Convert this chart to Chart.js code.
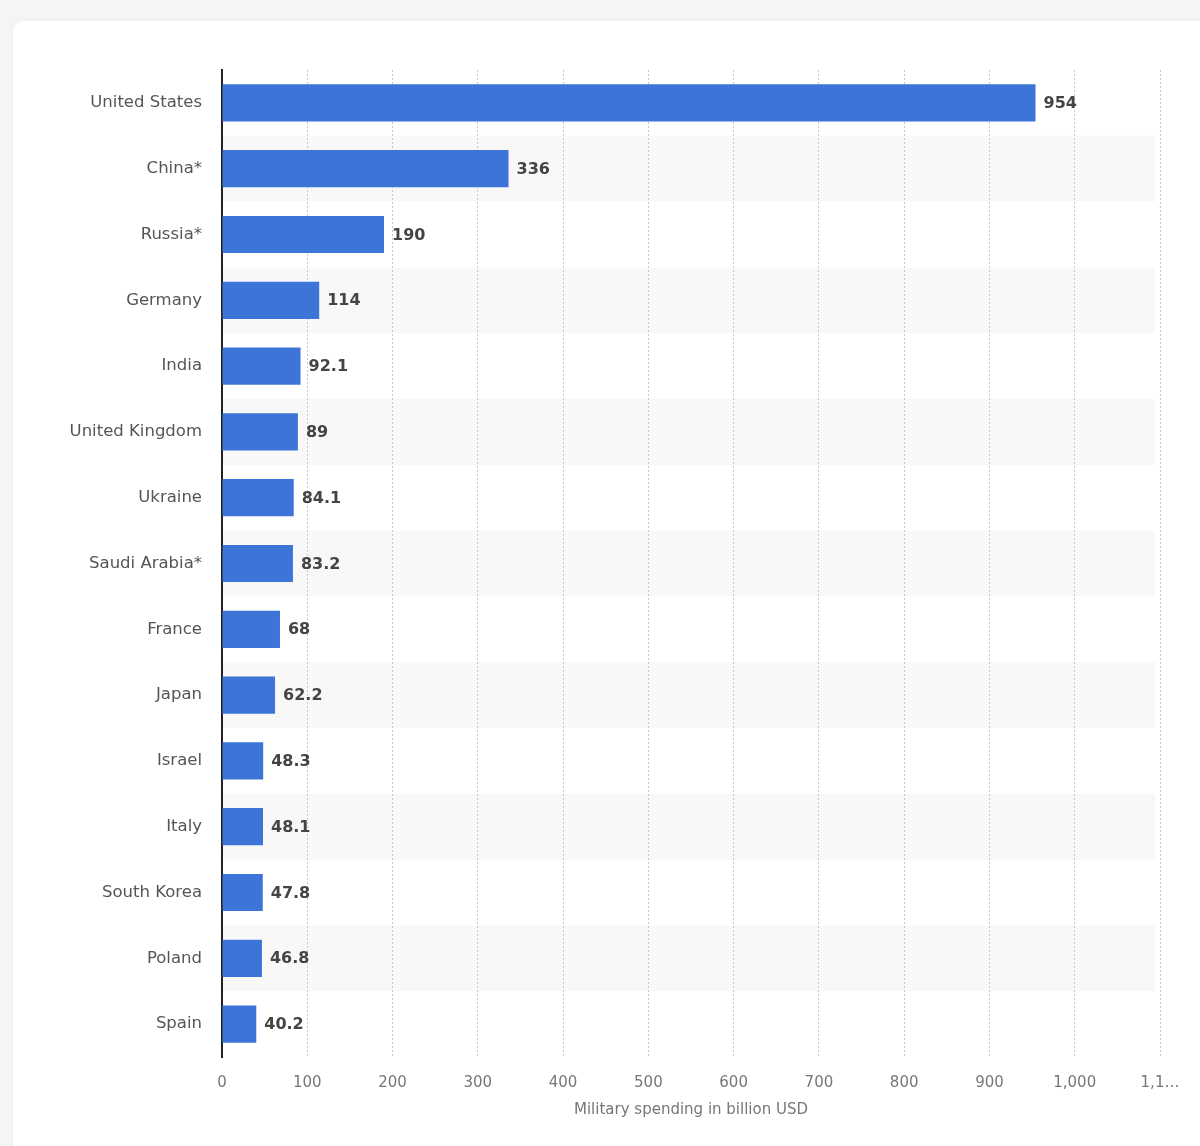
<!DOCTYPE html>
<html>
<head>
<meta charset="utf-8">
<script src="https://cdn.jsdelivr.net/npm/chart.js@4.4.1/dist/chart.umd.min.js"></script>
<style>
  html, body { margin:0; padding:0; background:#f4f5f7; width:1200px; height:1146px; overflow:hidden; }
  #card { position:absolute; left:13px; top:21px; width:1240px; height:1200px; background:#fff; border-radius:10px; box-shadow:0 0 6px rgba(0,0,0,0.04); }
  #wrap { position:absolute; left:0; top:0; width:1200px; height:1146px; }
</style>
</head>
<body>
<div id="card"></div>
<div id="wrap"><canvas id="c" width="1200" height="1146"></canvas></div>
<script>
const categories = ["United States","China*","Russia*","Germany","India","United Kingdom","Ukraine","Saudi Arabia*","France","Japan","Israel","Italy","South Korea","Poland","Spain"];
const spending = [954, 336, 190, 114, 92.1, 89, 84.1, 83.2, 68, 62.2, 48.3, 48.1, 47.8, 46.8, 40.2];
const xTicks = [0,100,200,300,400,500,600,700,800,900,1000,1100];
const xTickLabels = ["0","100","200","300","400","500","600","700","800","900","1,000","1,1…"];
const axisTitle = "Military spending in billion USD";

const FONT = "'DejaVu Sans', sans-serif";

const stripes = {
  id: 'stripes',
  beforeDraw(chart) {
    const {ctx, chartArea, scales} = chart;
    const y = scales.y;
    ctx.save();
    ctx.fillStyle = '#f8f8f9';
    categories.forEach((c, i) => {
      if (i % 2 === 1) {
        const top = y.getPixelForValue(i - 0.5);
        const bot = y.getPixelForValue(i + 0.5);
        ctx.fillRect(chartArea.left, top, chartArea.right - 5 - chartArea.left, bot - top);
      }
    });
    ctx.restore();
  }
};

const valueLabels = {
  id: 'valueLabels',
  afterDatasetsDraw(chart) {
    const {ctx} = chart;
    const meta = chart.getDatasetMeta(0);
    ctx.save();
    ctx.font = "bold 16px " + FONT;
    ctx.fillStyle = '#444';
    ctx.textAlign = 'left';
    ctx.textBaseline = 'middle';
    meta.data.forEach((el, i) => {
      ctx.fillText(String(spending[i]), el.x + 8, el.y + 1);
    });
    ctx.restore();
  }
};

new Chart(document.getElementById('c'), {
  type: 'bar',
  data: {
    labels: categories,
    datasets: [{
      data: spending,
      backgroundColor: '#3d74d8',
      borderWidth: 0,
      barPercentage: 0.565,
      categoryPercentage: 1
    }]
  },
  options: {
    indexAxis: 'y',
    responsive: false,
    animation: false,
    devicePixelRatio: 1,
    layout: { padding: { top: 70, right: 40, left: 0, bottom: 0 } },
    plugins: { legend: { display: false }, tooltip: { enabled: false } },
    scales: {
      x: {
        type: 'linear',
        min: 0, max: 1100,
        afterBuildTicks(scale) { scale.ticks = xTicks.map(v => ({ value: v })); },
        afterFit(scale) { scale.height = 89; },
        ticks: {
          padding: 17,
          color: '#777',
          font: { family: FONT, size: 15 },
          maxRotation: 0,
          autoSkip: false,
          callback(v) { const i = xTicks.indexOf(v); return i >= 0 ? xTickLabels[i] : ''; }
        },
        grid: { color: '#c8c8c8', lineWidth: 1, drawTicks: false },
        border: { display: false, dash: [2, 2] },
        title: {
          display: true,
          text: axisTitle,
          color: '#777',
          font: { family: FONT, size: 15 },
          padding: { top: 4, bottom: 27 }
        }
      },
      y: {
        afterFit(scale) { scale.width = 222; },
        ticks: {
          padding: 20,
          color: '#555',
          font: { family: FONT, size: 16.5 },
          autoSkip: false
        },
        grid: { display: false, drawTicks: false },
        border: { display: true, color: '#222', width: 2 }
      }
    }
  },
  plugins: [stripes, valueLabels]
});
</script>
</body>
</html>
